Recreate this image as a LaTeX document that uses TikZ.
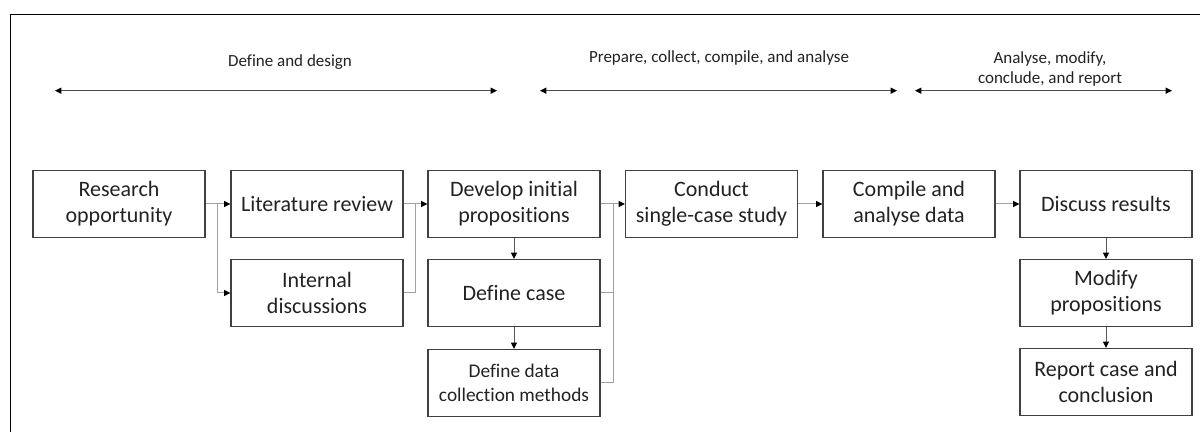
\documentclass[tikz,border=0pt]{standalone}
\usepackage{fontspec}
\setmainfont{Carlito}[Ligatures=NoCommon]
\usetikzlibrary{arrows.meta}
\definecolor{txt}{HTML}{222222}
\definecolor{conngray}{HTML}{A0A0A0}
\definecolor{boxline}{HTML}{404040}
\tikzset{
  px/.style={x=0.6pt,y=-0.6pt},
  box/.style={draw=boxline,line width=0.75pt,minimum width=103.2pt,minimum height=40.2pt,
    align=center,inner sep=2pt,text=txt,font=\fontsize{13.2}{15.6}\selectfont},
  smallbox/.style={box,font=\fontsize{11.6}{14.4}\selectfont},
  phase/.style={align=center,text=txt,font=\fontsize{10.2}{12}\selectfont},
  conn/.style={draw=conngray,line width=0.6pt},
  connarr/.style={conn,-{Triangle[length=3.8pt,width=3.6pt,color=black]}},
  span/.style={draw=black!70,line width=0.6pt,{Triangle[length=3.8pt,width=3.6pt,color=black]}-{Triangle[length=3.8pt,width=3.6pt,color=black]}}
}
\begin{document}
\begin{tikzpicture}[px]
\useasboundingbox (0,0) rectangle (1200,432);
% frame
\draw[line width=0.8pt,black] (10.5,432) -- (10.5,14.3) -- (1200,14.3);
% phase labels and spans
\node[phase] (p1) at (290,62) {Define and design};
\node[phase] (p2) at (719,58) {Prepare, collect, compile, and analyse};
\node[phase] (p3) at (1050,69) {Analyse, modify,\\conclude, and report};
\coordinate (s1a) at (55,90.7); \coordinate (s1b) at (497,90.7);
\coordinate (s2a) at (540,90.7); \coordinate (s2b) at (897,90.7);
\coordinate (s3a) at (915,90.7); \coordinate (s3b) at (1172,90.7);
\draw[span] (s1a) -- (s1b);
\draw[span] (s2a) -- (s2b);
\draw[span] (s3a) -- (s3b);
% boxes
\node[box] (ro) at (119,204) {Research\\opportunity};
\node[box] (lr) at (317,204) {Literature review};
\node[box] (id) at (317,293) {Internal\\discussions};
\node[box] (dp) at (514,204) {Develop initial\\propositions};
\node[box] (dc) at (514,293) {Define case};
\node[smallbox] (dd) at (514,383) {Define data\\collection methods};
\node[box] (cs) at (711.5,204) {Conduct\\single-case study};
\node[box] (ca) at (909,204) {Compile and\\analyse data};
\node[box] (dr) at (1106,204) {Discuss results};
\node[box] (mp) at (1106,293) {Modify\\propositions};
\node[box] (rc) at (1106,382) {Report case and\\conclusion};
% junctions
\coordinate (j1) at (217,204);
\coordinate (j2) at (415,204);
\coordinate (j3) at (613,204);
% connectors
\draw[conn] (ro.east) -- (j1);
\draw[connarr] (j1) -- (lr.west);
\draw[connarr] (j1) |- (id.west);
\draw[conn] (lr.east) -- (j2);
\draw[conn] (id.east) -| (j2);
\draw[connarr] (j2) -- (dp.west);
\draw[conn] (dp.east) -- (j3);
\draw[conn] (dc.east) -| (j3);
\draw[conn] (dd.east) -| (j3);
\draw[connarr] (j3) -- (cs.west);
\draw[connarr,draw=black!65] (dp.south) -- (dc.north);
\draw[connarr,draw=black!65] (dc.south) -- (dd.north);
\draw[connarr] (cs.east) -- (ca.west);
\draw[connarr] (ca.east) -- (dr.west);
\draw[connarr,draw=black!65] (dr.south) -- (mp.north);
\draw[connarr,draw=black!65] (mp.south) -- (rc.north);
\end{tikzpicture}
\end{document}
